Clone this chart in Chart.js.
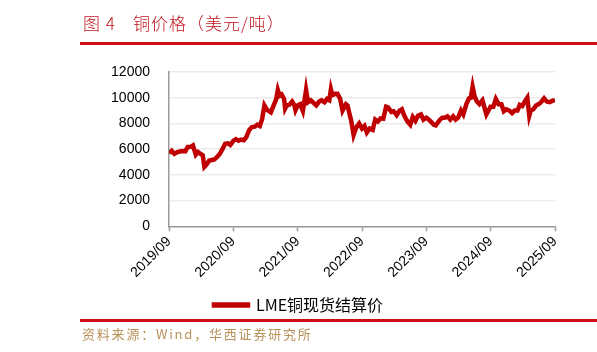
<!DOCTYPE html>
<html>
<head>
<meta charset="utf-8">
<script src="https://cdn.jsdelivr.net/npm/chart.js@4"></script>
<style>
  body { margin: 0; background: #fff; width: 597px; height: 352px; overflow: hidden; position: relative; }
  #wrap { position: absolute; left: 0; top: 0; width: 597px; height: 352px; }
  .title { position: absolute; top: 10px; font-family: "Noto Sans CJK SC", sans-serif; font-size: 17px; font-weight: 300; color: #c0141c; letter-spacing: 1px; }
  .rule { position: absolute; left: 80px; width: 517px; height: 3px; background: #d00c16; }
  #source { position: absolute; left: 82px; top: 324px; font-family: "Noto Sans CJK SC", sans-serif; font-size: 13px; color: #b8925a; letter-spacing: 1.8px; }
</style>
</head>
<body>
<div id="wrap"><canvas id="c" width="597" height="352"></canvas></div>
<div class="title" style="left:83px">图 4</div>
<div class="title" style="left:133px">铜价格（美元/吨）</div>
<div class="rule" style="top:42px"></div>
<div class="rule" style="top:319px"></div>
<div id="source">资料来源：Wind，华西证券研究所</div>
<script>
// LME copper cash settlement, USD/t
const dates = [
  "2019-09-02","2019-09-16","2019-10-01","2019-10-15","2019-11-01","2019-11-15","2019-12-02","2019-12-16",
  "2020-01-02","2020-01-15","2020-01-31","2020-02-14","2020-02-28","2020-03-10","2020-03-19","2020-03-31",
  "2020-04-15","2020-04-30","2020-05-15","2020-05-29","2020-06-15","2020-06-30","2020-07-15","2020-07-31",
  "2020-08-14","2020-08-31","2020-09-15","2020-09-30","2020-10-15","2020-10-30","2020-11-13","2020-11-30",
  "2020-12-15","2020-12-31","2021-01-15","2021-01-29","2021-02-12","2021-02-25","2021-03-10","2021-03-31",
  "2021-04-15","2021-04-30","2021-05-10","2021-05-20","2021-05-31","2021-06-15","2021-06-21","2021-06-30",
  "2021-07-15","2021-07-30","2021-08-13","2021-08-19","2021-08-31","2021-09-15","2021-09-30","2021-10-15",
  "2021-10-18","2021-10-29","2021-11-15","2021-11-30","2021-12-15","2021-12-31","2022-01-14","2022-01-31",
  "2022-02-15","2022-02-28","2022-03-07","2022-03-15","2022-03-31","2022-04-14","2022-04-29","2022-05-12",
  "2022-05-31","2022-06-10","2022-06-22","2022-06-30","2022-07-14","2022-07-29","2022-08-15","2022-08-31",
  "2022-09-15","2022-09-28","2022-10-14","2022-10-31","2022-11-15","2022-11-30","2022-12-15","2022-12-30",
  "2023-01-16","2023-01-27","2023-02-15","2023-02-28","2023-03-15","2023-03-31","2023-04-14","2023-04-28",
  "2023-05-15","2023-05-31","2023-06-15","2023-06-30","2023-07-14","2023-07-31","2023-08-15","2023-08-31",
  "2023-09-15","2023-09-29","2023-10-13","2023-10-24","2023-11-15","2023-11-30","2023-12-15","2023-12-29",
  "2024-01-15","2024-01-31","2024-02-15","2024-02-29","2024-03-15","2024-03-28","2024-04-15","2024-04-30",
  "2024-05-10","2024-05-20","2024-05-31","2024-06-14","2024-06-28","2024-07-15","2024-07-31","2024-08-07",
  "2024-08-30","2024-09-16","2024-09-30","2024-10-15","2024-10-31","2024-11-15","2024-11-29","2024-12-16",
  "2024-12-31","2025-01-15","2025-01-31","2025-02-14","2025-02-28","2025-03-14","2025-03-26","2025-04-07",
  "2025-04-15","2025-04-30","2025-05-15","2025-05-30","2025-06-13","2025-06-30","2025-07-15","2025-07-31",
  "2025-08-15","2025-08-29","2025-09-01"
];
const prices = [
  5690,5880,5630,5750,5820,5860,5830,6170,
  6180,6290,5570,5780,5630,5520,4625,4800,
  5100,5160,5200,5370,5620,6000,6420,6450,
  6330,6650,6780,6650,6750,6700,6920,7500,
  7720,7750,7900,7800,8330,9400,9050,8860,
  9340,9850,10600,10150,10250,9900,9150,9390,
  9460,9700,9400,9030,9400,9500,8970,10300,
  10600,9650,9800,9600,9400,9700,9800,9650,
  9900,9800,10650,10200,10300,10300,9900,9000,
  9500,9400,8700,8250,7100,7700,8000,7600,
  7800,7300,7600,7500,8300,8150,8400,8370,
  9300,9250,8900,8950,8650,9000,9100,8600,
  8150,7900,8500,8200,8600,8700,8300,8450,
  8300,8100,7900,7850,8250,8450,8450,8550,
  8300,8550,8300,8450,9000,8700,9500,9950,
  10000,10850,10100,9700,9500,9800,9000,8700,
  9300,9300,9900,9500,9500,8950,9100,9000,
  8800,9000,9000,9450,9350,9750,10000,8600,
  9000,9100,9400,9500,9650,9950,9700,9650,
  9750,9800,9810
];
const tickLabels = ["2019/09","2020/09","2021/09","2022/09","2023/09","2024/09","2025/09"];
const seriesName = "LME铜现货结算价";

// months since 2019-09-01
function monthPos(d) {
  const [y, m, day] = d.split("-").map(Number);
  return (y - 2019) * 12 + (m - 9) + (day - 1) / 30;
}
const points = dates.map((d, i) => ({ x: monthPos(d), y: prices[i] }));

new Chart(document.getElementById("c"), {
  type: "line",
  data: {
    datasets: [{
      label: seriesName,
      data: points,
      borderColor: "#c00000",
      backgroundColor: "#c00000",
      borderWidth: 4.5,
      pointRadius: 0,
      tension: 0,
      fill: false
    }]
  },
  options: {
    responsive: false,
    animation: false,
    layout: { padding: { left: 0, right: 0, top: 72, bottom: 29 } },
    plugins: {
      legend: {
        position: "bottom",
        labels: {
          boxWidth: 34,
          boxHeight: 1,
          padding: 14,
          color: "#000",
          font: { family: "Noto Sans CJK SC", size: 16 }
        }
      },
      tooltip: { enabled: false }
    },
    scales: {
      x: {
        type: "linear",
        min: 0,
        max: 72,
        border: { color: "#9a9a9a", width: 1.5 },
        grid: { drawOnChartArea: false, drawTicks: true, tickLength: 5, tickColor: "#9a9a9a", tickWidth: 1.5 },
        ticks: {
          stepSize: 12,
          minRotation: 45,
          maxRotation: 45,
          padding: 2,
          color: "#000",
          font: { family: "Liberation Sans", size: 14 },
          callback: v => tickLabels[v / 12]
        }
      },
      y: {
        min: 0,
        max: 12000,
        afterFit: s => { s.width = 169; },
        border: { color: "#9a9a9a", width: 1.5 },
        grid: { color: "#ececec", lineWidth: 1.5, drawTicks: false },
        ticks: {
          stepSize: 2000,
          padding: 19,
          color: "#000",
          font: { family: "Liberation Sans", size: 14 },
          callback: v => String(v)
        }
      },
      yr: {
        position: "right",
        display: true,
        afterFit: s => { s.width = 42; },
        grid: { display: false },
        border: { display: false },
        ticks: { display: false }
      }
    }
  }
});
</script>
</body>
</html>
